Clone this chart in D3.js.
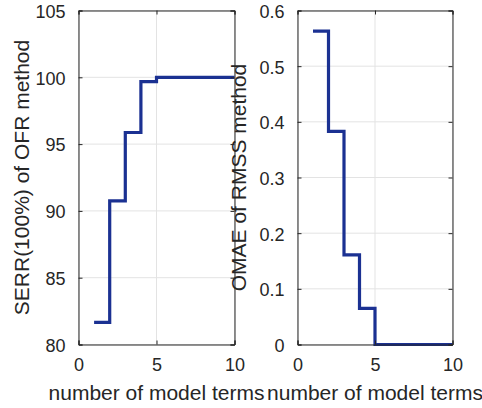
<!DOCTYPE html>
<html>
<head>
<meta charset="utf-8">
<script src="https://cdn.jsdelivr.net/npm/d3@7"></script>
<style>
  body { margin: 0; background: #fff; }
  text { font-family: "Liberation Sans", Arial, sans-serif; fill: #262626; }
</style>
</head>
<body>
<svg width="482" height="408"></svg>
<script>
let width = 482,
    height = 408;

// number of model terms
let terms = [1, 2, 3, 4, 5, 6, 7, 8, 9, 10];
// SERR (100%) of OFR method
let serr = [81.65, 90.75, 95.87, 99.68, 100, 100, 100, 100, 100, 100];
// OMAE of RMSS method
let omae = [0.563, 0.383, 0.161, 0.065, 0, 0, 0, 0, 0, 0];

let xTicks = [0, 5, 10];
let serrTicks = [80, 85, 90, 95, 100, 105];
let omaeTicks = [0, 0.1, 0.2, 0.3, 0.4, 0.5, 0.6];

let lineColor = "#1b3192",
    axisColor = "#262626",
    gridColor = "#e3e3e3",
    tickLen = 4;

let svg = d3.select("svg");

let panel = (opts) => {
    let x = d3.scaleLinear().domain([0, 10]).range([opts.left, opts.right]);
    let y = d3.scaleLinear().domain(opts.yDomain).range([opts.bottom, opts.top]);
    let g = svg.append("g");

    // grid
    g.selectAll(".gx").data(xTicks).enter().append("line")
        .attr("x1", d => x(d)).attr("x2", d => x(d))
        .attr("y1", opts.top).attr("y2", opts.bottom)
        .attr("stroke", gridColor).attr("stroke-width", 1);
    g.selectAll(".gy").data(opts.yTicks).enter().append("line")
        .attr("x1", opts.left).attr("x2", opts.right)
        .attr("y1", d => y(d)).attr("y2", d => y(d))
        .attr("stroke", gridColor).attr("stroke-width", 1);

    // stairs
    let line = d3.line()
        .x(d => x(d[0]))
        .y(d => y(d[1]))
        .curve(d3.curveStepAfter);
    g.append("path")
        .datum(terms.map((t, i) => [t, opts.values[i]]))
        .attr("d", line)
        .attr("fill", "none")
        .attr("stroke", lineColor)
        .attr("stroke-width", 3.2);

    // axes (ticks inward on all four sides)
    let xb = d3.axisBottom(x).tickValues(xTicks).tickSize(-tickLen).tickPadding(14).tickFormat(d3.format("d"));
    let xt = d3.axisTop(x).tickValues(xTicks).tickSize(-tickLen).tickFormat("");
    let yl = d3.axisLeft(y).tickValues(opts.yTicks).tickSize(-tickLen).tickPadding(13).tickFormat(opts.fmt);
    let yr = d3.axisRight(y).tickValues(opts.yTicks).tickSize(-tickLen).tickFormat("");

    let axes = [
        g.append("g").attr("transform", `translate(0,${opts.bottom})`).call(xb),
        g.append("g").attr("transform", `translate(0,${opts.top})`).call(xt),
        g.append("g").attr("transform", `translate(${opts.left},0)`).call(yl),
        g.append("g").attr("transform", `translate(${opts.right},0)`).call(yr)
    ];
    axes.forEach(a => {
        a.select(".domain").attr("stroke", axisColor).attr("stroke-width", 1);
        a.selectAll(".tick line").attr("stroke", axisColor);
        a.selectAll(".tick text")
            .style("font-family", "'Liberation Sans', Arial, sans-serif")
            .style("font-size", "18px")
            .attr("fill", axisColor);
    });
    axes[2].selectAll(".tick text").attr("dy", "0.38em");

    // axis labels
    g.append("text")
        .attr("x", (opts.left + opts.right) / 2)
        .attr("y", 400)
        .attr("text-anchor", "middle")
        .style("font-size", "21px")
        .text("number of model terms");
    g.append("text")
        .attr("transform", `translate(${opts.labelX},${(opts.top + opts.bottom) / 2}) rotate(-90)`)
        .attr("text-anchor", "middle")
        .style("font-size", "21px")
        .text(opts.yLabel);
};

panel({
    left: 78.5, right: 234.5, top: 10.5, bottom: 344.5,
    yDomain: [80, 105], yTicks: serrTicks, values: serr,
    fmt: d3.format("d"), yLabel: "SERR(100%) of OFR method", labelX: 28.5
});

panel({
    left: 297.5, right: 452.5, top: 10.5, bottom: 344.5,
    yDomain: [0, 0.6], yTicks: omaeTicks, values: omae,
    fmt: d => d === 0 ? "0" : d3.format(".1f")(d), yLabel: "OMAE of RMSS method", labelX: 245.5
});
</script>
</body>
</html>
